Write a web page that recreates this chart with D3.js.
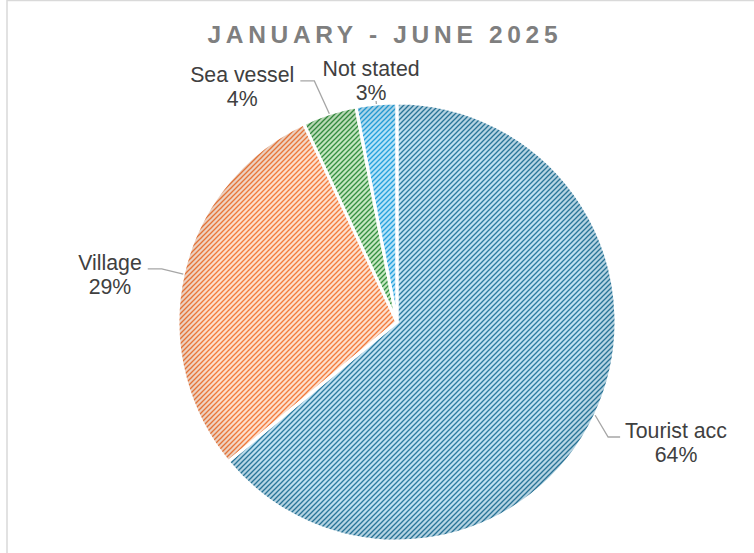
<!DOCTYPE html>
<html>
<head>
<meta charset="utf-8">
<script src="https://cdn.jsdelivr.net/npm/d3@7"></script>
<style>
  html, body { margin: 0; padding: 0; background: #fff; }
  svg { display: block; font-family: "Liberation Sans", Arial, sans-serif; }
</style>
</head>
<body>
<div id="chart"></div>
<script>
// data
const categories = ['Tourist acc', 'Village', 'Sea vessel', 'Not stated'];
const shares = [64, 29, 4, 3];
const title = 'JANUARY - JUNE 2025';

// styles
const fgColors = ['#2a7aa0', '#f37a3a', '#338f40', '#23a0dc'];
const bgColors = ['#c0e1f1', '#fddfcd', '#c4e7c0', '#b4e2f8'];
// label placement (polar, relative to pie): angle in degrees, distance as fraction of radius
const labelPolar = [[112.4, 1.378], [280.5, 1.333], [327.3, 1.308], [354, 1.134]];
const leaderType = ['elbow', 'elbow', 'elbow', 'tick'];

const width = 754, height = 553;
const cx = 397, cy = 322, r = 219;

const svg = d3.select('#chart').append('svg')
  .attr('width', width)
  .attr('height', height);

const defs = svg.append('defs');

// chart frame (partially cropped)
svg.append('rect')
  .attr('x', 7).attr('y', 0.5)
  .attr('width', width + 20).attr('height', height + 20)
  .attr('fill', 'none')
  .attr('stroke', '#d9d9d9')
  .attr('stroke-width', 1.5);

//Patterns: upward diagonal stripes
const s = 5;
categories.forEach((c, i) => {
  const p = defs.append('pattern')
    .attr('id', 'pat' + i)
    .attr('patternUnits', 'userSpaceOnUse')
    .attr('width', s).attr('height', s);
  p.append('rect').attr('width', s).attr('height', s).attr('fill', bgColors[i]);
  p.append('path')
    .attr('d', `M-1,1L1,-1M0,${s}L${s},0M${s - 1},${s + 1}L${s + 1},${s - 1}`)
    .attr('stroke', fgColors[i])
    .attr('stroke-width', 1.3);
});

const edge = defs.append('radialGradient').attr('id', 'edge')
  .attr('gradientUnits', 'userSpaceOnUse')
  .attr('cx', 0).attr('cy', 0).attr('r', r);
edge.append('stop').attr('offset', 0.86).attr('stop-color', '#000').attr('stop-opacity', 0);
edge.append('stop').attr('offset', 1).attr('stop-color', '#000').attr('stop-opacity', 0.08);

const pie = d3.pie().sort(null).value(d => d);
const arcs = pie(shares);
const arc = d3.arc().innerRadius(0).outerRadius(r);

const plot = svg.append('g').attr('transform', `translate(${cx},${cy})`);

plot.selectAll('.slice')
  .data(arcs)
  .enter()
  .append('path')
  .attr('class', 'slice')
  .attr('d', arc)
  .attr('fill', (d, i) => `url(#pat${i})`);

plot.selectAll('.shade')
  .data(arcs)
  .enter()
  .append('path')
  .attr('class', 'shade')
  .attr('d', arc)
  .attr('fill', 'url(#edge)');

plot.selectAll('.sep')
  .data(arcs)
  .enter()
  .append('path')
  .attr('class', 'sep')
  .attr('d', arc)
  .attr('fill', 'none')
  .attr('stroke', '#fff')
  .attr('stroke-width', 3)
  .attr('stroke-linejoin', 'round');

//Title
const t = svg.append('text')
  .attr('y', 43)
  .attr('font-size', 24.5)
  .attr('font-weight', 'bold')
  .attr('fill', '#7f7f7f')
  .attr('letter-spacing', 4.7)
  .text(title);
const tw = t.node().getComputedTextLength() - 4.7;
t.attr('x', 382.5 - tw / 2);

//Labels
const polar = (deg, rad) => {
  const a = deg * Math.PI / 180;
  return [rad * Math.sin(a), -rad * Math.cos(a)];
};

arcs.forEach((d, i) => {
  const [lx, ly] = polar(labelPolar[i][0], labelPolar[i][1] * r);
  const g = plot.append('g').attr('class', 'label');
  const txt = g.append('text')
    .attr('text-anchor', 'middle')
    .attr('font-size', 21.3)
    .attr('fill', '#404040');
  txt.append('tspan').attr('x', lx).attr('y', ly + 1).text(categories[i]);
  txt.append('tspan').attr('x', lx).attr('y', ly + 25).text(d3.format('.0f')(shares[i]) + '%');
  const tl = txt.select('tspan').node().getComputedTextLength();

  const mid = (d.startAngle + d.endAngle) / 2 * 180 / Math.PI;
  const start = polar(mid, r);
  let pts;
  if (leaderType[i] === 'tick') {
    pts = [start, polar(mid, r + 3)];
  } else if (lx > start[0]) {
    const endX = lx - tl / 2 - 5;
    pts = [start, [endX - 12, ly], [endX, ly]];
  } else {
    const endX = lx + tl / 2 + 6;
    pts = [start, [endX + 14, ly], [endX, ly]];
  }
  g.insert('path', 'text')
    .attr('d', d3.line()(pts))
    .attr('fill', 'none')
    .attr('stroke', '#a6a6a6')
    .attr('stroke-width', 1.3);
});
</script>
</body>
</html>
